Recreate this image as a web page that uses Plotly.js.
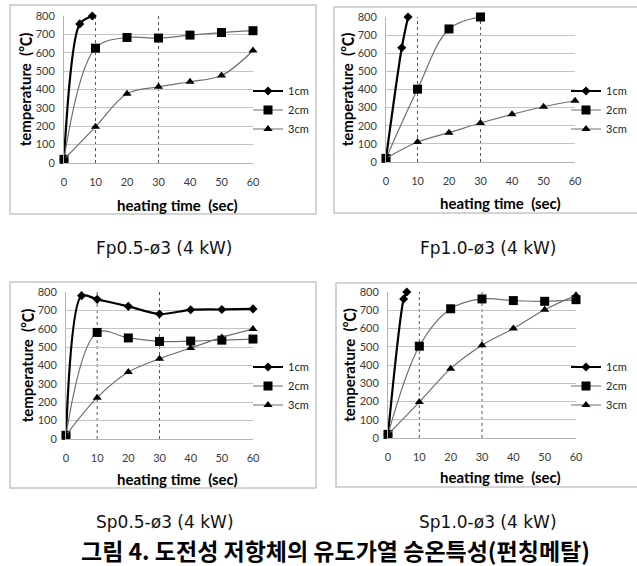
<!DOCTYPE html>
<html>
<head>
<meta charset="utf-8">
<script src="https://cdn.plot.ly/plotly-3.0.1.min.js"></script>
<style>html,body{margin:0;padding:0;background:#fff;}#chart{width:637px;height:566px;}</style>
</head>
<body>
<div id="chart"></div>
<script>
// ---------------- data ----------------
const seriesNames = ['1cm', '2cm', '3cm'];
const time = [0, 10, 20, 30, 40, 50, 60];
const refTimes = [10, 30];
const yTicks = [0, 100, 200, 300, 400, 500, 600, 700, 800];
const xTicks = [0, 10, 20, 30, 40, 50, 60];

// Fp0.5-ø3
const fp05_1cm_t = [0, 5, 9];
const fp05_1cm = [20, 757, 800];
const fp05_2cm = [20, 625, 683, 680, 696, 710, 720];
const fp05_3cm = [20, 197, 377, 415, 442, 476, 612];

// Fp1.0-ø3
const fp10_1cm_t = [0, 5, 7];
const fp10_1cm = [20, 630, 800];
const fp10_2cm_t = [0, 10, 20, 30];
const fp10_2cm = [20, 402, 734, 800];
const fp10_3cm = [20, 110, 162, 215, 263, 305, 338];

// Sp0.5-ø3
const sp05_1cm_t = [0, 5, 10, 20, 30, 40, 50, 60];
const sp05_1cm = [20, 780, 760, 722, 680, 703, 705, 708];
const sp05_2cm = [20, 580, 550, 531, 533, 538, 544];
const sp05_3cm = [20, 225, 364, 437, 495, 553, 598];

// Sp1.0-ø3
const sp10_1cm_t = [0, 5, 6];
const sp10_1cm = [20, 762, 800];
const sp10_2cm = [20, 503, 708, 762, 753, 749, 758];
const sp10_3cm = [20, 197, 380, 508, 600, 703, 782];

const panelLabels = ['Fp0.5-ø3 (4 kW)', 'Fp1.0-ø3 (4 kW)', 'Sp0.5-ø3 (4 kW)', 'Sp1.0-ø3 (4 kW)'];
const caption = '그림 4. 도전성 저항체의 유도가열 승온특성(펀칭메탈)';
const xTitle = 'heating time\u00a0\u00a0(sec)';
const yTitle = 'temperature\u00a0\u00a0(℃)';

// ---------------- geometry helpers ----------------
const W = 637, H = 566;
const px = v => v / W;
const py = v => 1 - v / H;

const panels = [
  {plot: [64, 253, 16, 163], frame: [10, 316, 5, 214], legX: 248, legY: 110, xt: [177, 205],
   series: [[fp05_1cm_t, fp05_1cm], [time, fp05_2cm], [time, fp05_3cm]]},
  {plot: [386, 575, 17, 162], frame: [334, 642, 7, 213], legX: 566, legY: 110, xt: [500, 203],
   series: [[fp10_1cm_t, fp10_1cm], [fp10_2cm_t, fp10_2cm], [time, fp10_3cm]]},
  {plot: [66, 253, 292, 439], frame: [10, 316, 282, 488], legX: 248, legY: 386, xt: [177, 479],
   series: [[sp05_1cm_t, sp05_1cm], [time, sp05_2cm], [time, sp05_3cm]]},
  {plot: [388, 576, 292, 438], frame: [336, 642, 283, 487], legX: 566, legY: 386, xt: [500, 477],
   series: [[sp10_1cm_t, sp10_1cm], [time, sp10_2cm], [time, sp10_3cm]]}
];

const styles = [
  {line: {color: '#000000', width: 2.2, shape: 'spline', smoothing: 0.8}, marker: {symbol: 'diamond', size: 7, color: '#000'}},
  {line: {color: '#6e6e6e', width: 1.2, shape: 'spline', smoothing: 1}, marker: {symbol: 'square', size: 9, color: '#000'}},
  {line: {color: '#6e6e6e', width: 1.2, shape: 'spline', smoothing: 1}, marker: {symbol: 'triangle-up', size: 8, color: '#000'}}
];

const tickFont = {family: 'Lato, "Open Sans", sans-serif', size: 11, color: '#3a3a3a'};
const titleFont = {family: 'Lato, "Noto Sans CJK KR", sans-serif', size: 15, color: '#000'};

const data = [];
const layout = {
  width: W, height: H,
  margin: {l: 0, r: 0, t: 0, b: 0},
  paper_bgcolor: '#fff', plot_bgcolor: 'rgba(0,0,0,0)',
  showlegend: true,
  shapes: [], annotations: []
};

panels.forEach((p, i) => {
  const n = i === 0 ? '' : String(i + 1);
  const xa = 'x' + n, ya = 'y' + n;
  const legName = 'legend' + n;
  p.series.forEach((s, k) => {
    data.push({
      type: 'scatter', mode: 'lines+markers',
      x: s[0], y: s[1], name: seriesNames[k],
      xaxis: xa, yaxis: ya, legend: legName,
      line: styles[k].line, marker: styles[k].marker,
      cliponaxis: false
    });
  });
  layout['xaxis' + n] = {
    domain: [px(p.plot[0]), px(p.plot[1])], anchor: ya,
    range: [0, 60], tickvals: xTicks, ticks: '', showgrid: false, zeroline: false,
    showline: true, linecolor: '#b4b4b4', linewidth: 1,
    tickfont: tickFont, ticklabelstandoff: 9, fixedrange: true
  };
  layout['yaxis' + n] = {
    domain: [py(p.plot[3]), py(p.plot[2])], anchor: xa,
    range: [0, 800], tickvals: yTicks, ticks: '', showgrid: true, gridcolor: '#c4c4c4', gridwidth: 1,
    zeroline: false, showline: true, linecolor: '#b4b4b4', linewidth: 1,
    tickfont: tickFont, ticklabelstandoff: 6, fixedrange: true,
    title: {text: '<b>' + yTitle + '</b>', font: titleFont, standoff: 0}
  };
  layout[legName] = {
    x: px(p.legX), y: py(p.legY), xanchor: 'left', yanchor: 'middle',
    bgcolor: 'rgba(0,0,0,0)', borderwidth: 0,
    font: {family: 'Lato, "Open Sans", sans-serif', size: 11, color: '#222'},
    itemwidth: 30, tracegroupgap: 0
  };
  // frame
  layout.shapes.push({type: 'rect', xref: 'paper', yref: 'paper',
    x0: px(p.frame[0]), x1: px(p.frame[1]), y0: py(p.frame[3]), y1: py(p.frame[2]),
    line: {color: '#c6c6c6', width: 1.5}, fillcolor: 'rgba(0,0,0,0)', layer: 'below'});
  // reference lines
  refTimes.forEach(t => {
    layout.shapes.push({type: 'line', xref: xa, yref: ya, x0: t, x1: t, y0: 0, y1: 800,
      line: {color: '#555', width: 1, dash: 'dot'}, layer: 'below'});
  });
  // x-axis title
  layout.annotations.push({xref: 'paper', yref: 'paper', x: px(p.xt[0]), y: py(p.xt[1]),
    text: '<b>' + xTitle + '</b>', showarrow: false, font: titleFont,
    xanchor: 'center', yanchor: 'middle'});
});

// panel labels
const labelPos = [[165, 248], [488, 248], [165, 522], [488, 522]];
panelLabels.forEach((t, i) => {
  layout.annotations.push({xref: 'paper', yref: 'paper', x: px(labelPos[i][0]), y: py(labelPos[i][1]),
    text: t, showarrow: false, xanchor: 'center', yanchor: 'middle',
    font: {family: '"DejaVu Sans", sans-serif', size: 17, color: '#111'}});
});
layout.annotations.push({xref: 'paper', yref: 'paper', x: px(335), y: py(550),
  text: '<b>' + caption + '</b>', showarrow: false, xanchor: 'center', yanchor: 'middle',
  font: {family: '"Noto Sans CJK KR", sans-serif', size: 23, color: '#000'}});

Plotly.newPlot('chart', data, layout, {staticPlot: true, displayModeBar: false});
</script>
</body>
</html>
